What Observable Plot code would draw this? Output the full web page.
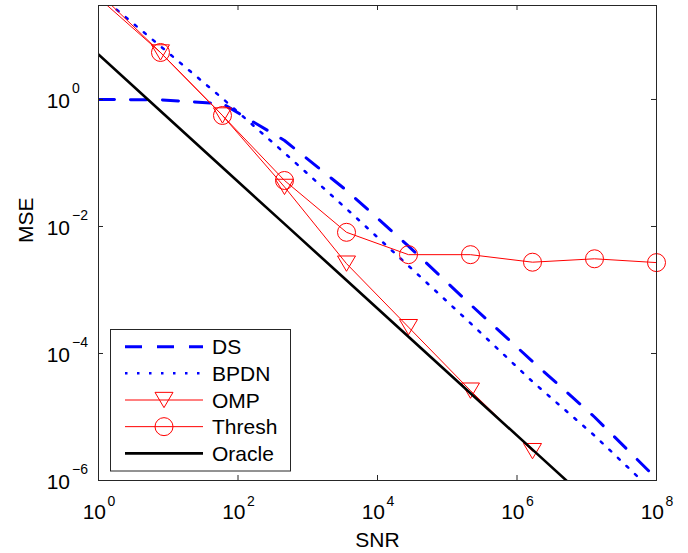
<!DOCTYPE html>
<html>
<head>
<meta charset="utf-8">
<script src="https://cdn.jsdelivr.net/npm/d3@7"></script>
<script src="https://cdn.jsdelivr.net/npm/@observablehq/plot@0.6"></script>
<style>
  html, body { margin: 0; padding: 0; background: white; }
  #chart { width: 688px; height: 553px; }
</style>
</head>
<body>
<div id="chart"></div>
<script>
// ---- data ----
const snr    = [1, 7.74, 59.9, 464, 3594, 27826, 215443, 1668101, 12915497, 100000000];
const ds     = [1.0, 0.99, 0.86, 0.226, 0.037, 0.0049, 0.00059, 0.000075, 0.00001, 0.00000107];
const bpdn   = [45, 6.9, 1.04, 0.144, 0.019, 0.0024, 0.0003, 0.000036, 0.0000051, 0.0000006];
const omp    = [48, 5.5, 0.56, 0.042, 0.0026, 0.00026, 0.000026, 0.0000029];
const thresh = [40, 5.5, 0.56, 0.053, 0.0081, 0.0036, 0.0036, 0.00274, 0.0031, 0.0027];
const oracle = [5.1, 0.66, 0.085, 0.011, 0.00142, 0.000183, 0.0000237, 0.00000306, 0.000000395, 0.000000051];

const xTicks = [1, 1e2, 1e4, 1e6, 1e8];
const xTickExp = ["0", "2", "4", "6", "8"];
const yTicks = [1, 1e-2, 1e-4, 1e-6];
const yTickExp = ["0", "\u22122", "\u22124", "\u22126"];
const xLabel = "SNR";
const yLabel = "MSE";
const legendLabels = ["DS", "BPDN", "OMP", "Thresh", "Oracle"];

const toRows = (vals) => vals.map((v, i) => ({snr: snr[i], mse: v}));
const dsRows = toRows(ds), bpdnRows = toRows(bpdn), ompRows = toRows(omp),
      threshRows = toRows(thresh), oracleRows = toRows(oracle);

const yTop = 30.2;
const triDown = {
  draw(context, size) {
    const r = Math.sqrt(size / Math.PI);
    context.moveTo(-r, -0.85 * r);
    context.lineTo(r, -0.85 * r);
    context.lineTo(0, 0.85 * r);
    context.closePath();
  }
};
const RED = "#ff0000", BLUE = "#0000ff";
const FONT = "'Liberation Sans', Arial, Helvetica, sans-serif";
const frameH = 475, frameW = 558;
const FS = 21, FSX = 14;

const svg = Plot.plot({
  width: 688,
  height: 553,
  marginLeft: 98,
  marginRight: 32,
  marginTop: 5,
  marginBottom: 73,
  style: {fontFamily: FONT, fontSize: "21px", background: "white", color: "black", overflow: "visible"},
  x: {type: "log", domain: [1, 1e8], axis: null},
  y: {type: "log", domain: [1e-6, yTop], axis: null},
  marks: [
    // data lines
    Plot.line(dsRows, {x: "snr", y: "mse", stroke: BLUE, strokeWidth: 3, strokeDasharray: "16,16", clip: true}),
    Plot.line(bpdnRows, {x: "snr", y: "mse", stroke: BLUE, strokeWidth: 2.5, strokeDasharray: "2.5,9.3", clip: true}),
    Plot.line(ompRows, {x: "snr", y: "mse", stroke: RED, strokeWidth: 1, clip: true}),
    Plot.dot(ompRows, {x: "snr", y: "mse", filter: d => d.mse <= yTop, symbol: triDown, r: 9, stroke: RED, strokeWidth: 1, fill: "none"}),
    Plot.line(threshRows, {x: "snr", y: "mse", stroke: RED, strokeWidth: 1, clip: true}),
    Plot.dot(threshRows, {x: "snr", y: "mse", filter: d => d.mse <= yTop, symbol: "circle", r: 9, stroke: RED, strokeWidth: 1, fill: "none"}),
    Plot.line(oracleRows, {x: "snr", y: "mse", stroke: "black", strokeWidth: 2.6, clip: true}),
    // frame
    Plot.frame({stroke: "#262626", strokeWidth: 1}),
    // inward ticks
    Plot.tickX(xTicks, {x: d => d, insetTop: frameH - 5, stroke: "#262626"}),
    Plot.tickX(xTicks, {x: d => d, insetBottom: frameH - 5, stroke: "#262626"}),
    Plot.tickY(yTicks, {y: d => d, insetRight: frameW - 5, stroke: "#262626"}),
    Plot.tickY(yTicks, {y: d => d, insetLeft: frameW - 5, stroke: "#262626"}),
    // x tick labels
    Plot.text(xTicks, {x: d => d, frameAnchor: "bottom", text: () => "10", textAnchor: "end", lineAnchor: "bottom", dx: 7.5, dy: 38.3, fontSize: FS, fill: "black"}),
    Plot.text(xTicks, {x: d => d, frameAnchor: "bottom", text: (d, i) => xTickExp[i], textAnchor: "start", lineAnchor: "bottom", dx: 9, dy: 25, fontSize: FSX, fill: "black"}),
    // y tick labels
    Plot.text(yTicks, {y: d => d, frameAnchor: "left", text: () => "10", textAnchor: "end", lineAnchor: "bottom", dx: -28.5, dy: 8.3, fontSize: FS, fill: "black"}),
    Plot.text(yTicks, {y: d => d, frameAnchor: "left", text: (d, i) => yTickExp[i], textAnchor: "start", lineAnchor: "bottom", dx: -26.5, dy: -6.7, fontSize: FSX, fill: "black"}),
    // axis labels
    Plot.text([xLabel], {frameAnchor: "bottom", text: d => d, lineAnchor: "bottom", dy: 66.7, fontSize: FS, fill: "black"}),
    Plot.text([yLabel], {frameAnchor: "left", text: d => d, rotate: -90, lineAnchor: "bottom", dx: -66, fontSize: FS, fill: "black"})
  ]
});

// ---- legend (inside the axes, lower-left) ----
const g = d3.select(svg).append("g").attr("font-family", FONT).attr("font-size", FS).attr("text-anchor", "start");
g.append("rect").attr("x", 110.5).attr("y", 329.5).attr("width", 180).attr("height", 141.5)
  .attr("fill", "white").attr("stroke", "#262626").attr("stroke-width", 1);
const rowY = (i) => 346.7 + i * 26.65;
const styles = [
  {stroke: BLUE, w: 3, dash: "17,15"},
  {stroke: BLUE, w: 2.5, dash: "2.5,9.5"},
  {stroke: RED, w: 1, dash: null, marker: "tri"},
  {stroke: RED, w: 1, dash: null, marker: "circle"},
  {stroke: "black", w: 2.8, dash: null}
];
legendLabels.forEach((lab, i) => {
  const y = rowY(i), s = styles[i];
  const ln = g.append("line").attr("x1", 125).attr("x2", 203).attr("y1", y).attr("y2", y)
    .attr("stroke", s.stroke).attr("stroke-width", s.w);
  if (s.dash) ln.attr("stroke-dasharray", s.dash);
  if (s.marker === "tri") {
    const r = 9;
    g.append("path").attr("d", `M${164 - r},${y - 0.85 * r}L${164 + r},${y - 0.85 * r}L164,${y + 0.85 * r}Z`)
      .attr("fill", "none").attr("stroke", RED).attr("stroke-width", 1);
  } else if (s.marker === "circle") {
    g.append("circle").attr("cx", 164).attr("cy", y).attr("r", 9)
      .attr("fill", "none").attr("stroke", RED).attr("stroke-width", 1);
  }
  g.append("text").attr("x", 212).attr("y", y + 7.5).attr("fill", "black").attr("text-anchor", "start").text(lab);
});

document.getElementById("chart").appendChild(svg);
</script>
</body>
</html>
